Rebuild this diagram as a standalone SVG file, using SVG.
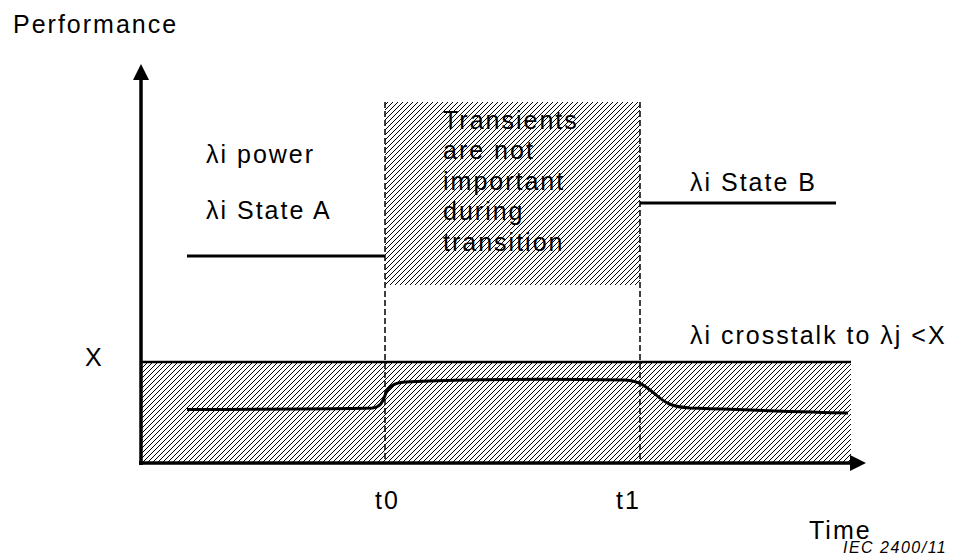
<svg xmlns="http://www.w3.org/2000/svg" width="967" height="556" viewBox="0 0 967 556">
<defs>
<pattern id="hatch" patternUnits="userSpaceOnUse" width="5" height="5">
<path d="M-1,1 L1,-1 M0,5 L5,0 M4,6 L6,4" stroke="#000" stroke-width="1"/>
</pattern>
<marker id="arr" viewBox="0 0 16 16" refX="2" refY="8" markerWidth="16" markerHeight="16" markerUnits="userSpaceOnUse" orient="auto">
<path d="M0,0 L16,8 L0,16 Z" fill="#000"/>
</marker>
</defs>
<style>
text{font-family:"Liberation Sans",Arial,sans-serif;font-size:25px;fill:#000;letter-spacing:2px}
.thick{stroke:#000;stroke-width:3.5;fill:none}
.level{stroke:#000;stroke-width:3;fill:none}
.dash{stroke:#000;stroke-width:1.5;stroke-dasharray:6 3;fill:none}
.small{font-size:16px;font-style:italic;letter-spacing:1.5px}
</style>
<rect width="967" height="556" fill="#fff"/>
<g id="transition-zone">
<rect x="385" y="102" width="255" height="183" fill="url(#hatch)"/>
<text x="443" y="129">Transients</text>
<text x="443" y="159">are not</text>
<text x="443" y="190">important</text>
<text x="443" y="220">during</text>
<text x="443" y="251">transition</text>
</g>
<g id="crosstalk-zone">
<rect x="141" y="362" width="710" height="101" fill="url(#hatch)"/>
<line x1="141" y1="362" x2="851" y2="362" stroke="#000" stroke-width="2.5"/>
</g>
<g id="connectors">
<line class="dash" x1="385" y1="102" x2="385" y2="463"/>
<line class="dash" x1="640" y1="102" x2="640" y2="463"/>
<line class="thick" x1="141" y1="465" x2="141" y2="78" marker-end="url(#arr)"/>
<line class="thick" x1="139" y1="463" x2="852" y2="463" marker-end="url(#arr)"/>
</g>
<g id="state-a">
<line class="level" x1="187" y1="256" x2="385" y2="256"/>
<text x="206" y="163">λi power</text>
<text x="206" y="219">λi State A</text>
</g>
<g id="state-b">
<line class="level" x1="640" y1="203" x2="836" y2="203"/>
<text x="690" y="191">λi State B</text>
</g>
<g id="crosstalk-curve">
<path class="level" d="M187,409.5 C260,409 340,409 372,408 C382,407 383,400 386,393 C389,386 394,383 405,382 C470,379 560,379 625,380 C640,381 645,386 655,394 C665,403 672,407 690,408 C750,410 800,412 848,413"/>
<text x="690" y="344">λi crosstalk to λj &lt;X</text>
</g>
<g id="labels">
<text x="13" y="33">Performance</text>
<text x="85" y="366">X</text>
<text x="375" y="509">t0</text>
<text x="616" y="509">t1</text>
<text x="809" y="539">Time</text>
<text class="small" x="843" y="553">IEC   2400/11</text>
</g>
</svg>
